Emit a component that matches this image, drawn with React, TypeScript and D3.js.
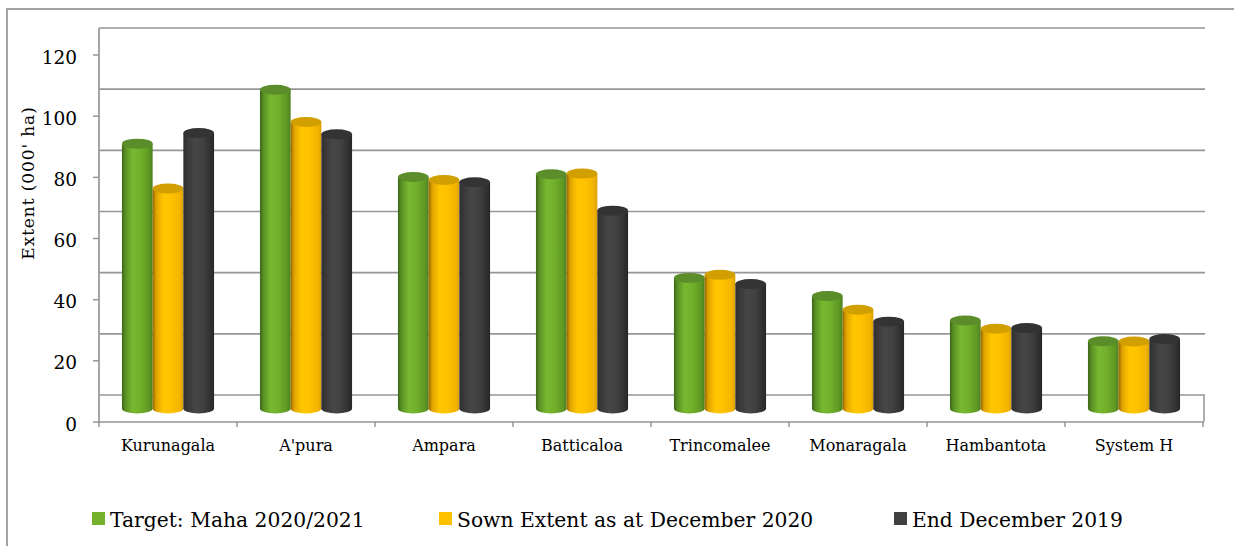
import React from 'react';
import * as d3 from 'd3';

const categories = ['Kurunagala', "A'pura", 'Ampara', 'Batticaloa', 'Trincomalee', 'Monaragala', 'Hambantota', 'System H'];
const target = [86.6, 104.2, 75.7, 76.6, 42.7, 36.8, 28.8, 22.0];
const sown = [71.9, 93.7, 74.7, 76.8, 43.7, 32.3, 26.1, 21.9];
const end2019 = [90.1, 89.7, 74.0, 64.7, 40.7, 28.4, 26.3, 22.7];
const yTicks = [0, 20, 40, 60, 80, 100, 120];
const seriesNames = ['Target: Maha 2020/2021', 'Sown Extent as at December 2020', 'End December 2019'];

const W = 1234, H = 546;
const left = 99, right = 1204, floorFront = 422, depth = 27;
const font = "'DejaVu Serif', serif";

const series = [
  { name: seriesNames[0], values: target, id: 'g', top: '#5b8d2a', key: '#76b12d',
    stops: [['0%', '#3d6618'], ['12%', '#5a9224'], ['35%', '#78b830'], ['60%', '#72b02c'], ['88%', '#5e9824'], ['100%', '#4d8020']] },
  { name: seriesNames[1], values: sown, id: 'y', top: '#d29f00', key: '#ffc000',
    stops: [['0%', '#9a6600'], ['12%', '#e0a400'], ['35%', '#ffc600'], ['60%', '#ffc200'], ['88%', '#f2b400'], ['100%', '#dca000']] },
  { name: seriesNames[2], values: end2019, id: 'k', top: '#333333', key: '#404040',
    stops: [['0%', '#2e2e2e'], ['15%', '#3a3a3a'], ['40%', '#474747'], ['65%', '#404040'], ['90%', '#2f2f2f'], ['100%', '#262626']] },
];

const legendX = [92, 439, 894];

export default function App() {
  const x = d3.scaleBand<string>().domain(categories).range([left, right - 1]);
  const yFront = d3.scaleLinear().domain([0, 120]).range([floorFront, 55]);
  const yBack = (v: number) => yFront(v) - depth;
  const yMid = (v: number) => yFront(v) - depth / 2;
  const barW = 30.7;
  const rx = barW / 2, ry = 5;

  return (
    <div style={{ position: 'fixed', left: 0, top: 0 }}>
      <svg width={W} height={H} style={{ display: 'block', background: '#fff' }}>
        <defs>
          {series.map(s => (
            <linearGradient key={s.id} id={'grad-' + s.id} x1="0" x2="1" y1="0" y2="0">
              {s.stops.map(([o, c]) => <stop key={o} offset={o} stopColor={c} />)}
            </linearGradient>
          ))}
        </defs>

        {/* outer frame */}
        <rect x={7} y={9} width={1240} height={560} fill="none" stroke="#a3a3a3" strokeWidth={2} />

        {/* back wall gridlines */}
        {yTicks.map(t => (
          <line key={'g' + t} x1={left} x2={right + 1} y1={yBack(t)} y2={yBack(t)} stroke="#969696" strokeWidth={1.7} />
        ))}
        {/* floor edges and left wall */}
        <line x1={left} x2={left} y1={yBack(120)} y2={floorFront + 1} stroke="#969696" strokeWidth={1.7} />
        <line x1={right} x2={right} y1={yBack(0)} y2={floorFront} stroke="#969696" strokeWidth={1.5} />

        {/* cylinders */}
        {series.map((s, si) =>
          s.values.map((v, i) => {
            const cx = (x(categories[i]) as number) + x.bandwidth() / 2 + (si - 1) * barW;
            const yt = yMid(v), yb = yMid(0);
            return (
              <g key={s.id + i}>
                <ellipse cx={cx} cy={yb} rx={rx} ry={ry} fill={`url(#grad-${s.id})`} />
                <rect x={cx - rx} y={yt} width={barW} height={yb - yt} fill={`url(#grad-${s.id})`} />
                <ellipse cx={cx} cy={yt} rx={rx} ry={ry} fill={s.top} />
              </g>
            );
          })
        )}

        {/* front axis */}
        <line x1={left} x2={right} y1={floorFront} y2={floorFront} stroke="#969696" strokeWidth={1.7} />
        {yTicks.map(t => (
          <g key={'t' + t}>
            <line x1={left - 6} x2={left} y1={yFront(t)} y2={yFront(t)} stroke="#969696" strokeWidth={1.5} />
            <text x={77} y={yFront(t) + 8.5} textAnchor="end" fontFamily={font} fontSize={18.5} fill="#000">{t}</text>
          </g>
        ))}
        {categories.map((c, i) => (
          <g key={c}>
            <line x1={(x(c) as number)} x2={(x(c) as number)} y1={floorFront} y2={floorFront + 5} stroke="#969696" strokeWidth={1.5} />
            {i === categories.length - 1 && (
              <line x1={right - 1} x2={right - 1} y1={floorFront} y2={floorFront + 5} stroke="#969696" strokeWidth={1.5} />
            )}
            <text x={(x(c) as number) + x.bandwidth() / 2} y={450.5} textAnchor="middle" fontFamily={font} fontSize={16} fill="#000">{c}</text>
          </g>
        ))}

        <text transform="translate(34,183) rotate(-90)" textAnchor="middle" fontFamily={font} fontSize={17} letterSpacing={0.9} fill="#000">Extent (000' ha)</text>

        {/* legend */}
        {series.map((s, si) => (
          <g key={'l' + s.id} transform={`translate(${legendX[si]},0)`}>
            <rect x={0} y={512} width={13} height={13} fill={s.key} />
            <text x={18} y={527} fontFamily={font} fontSize={20.3} fill="#000">{s.name}</text>
          </g>
        ))}
      </svg>
    </div>
  );
}
